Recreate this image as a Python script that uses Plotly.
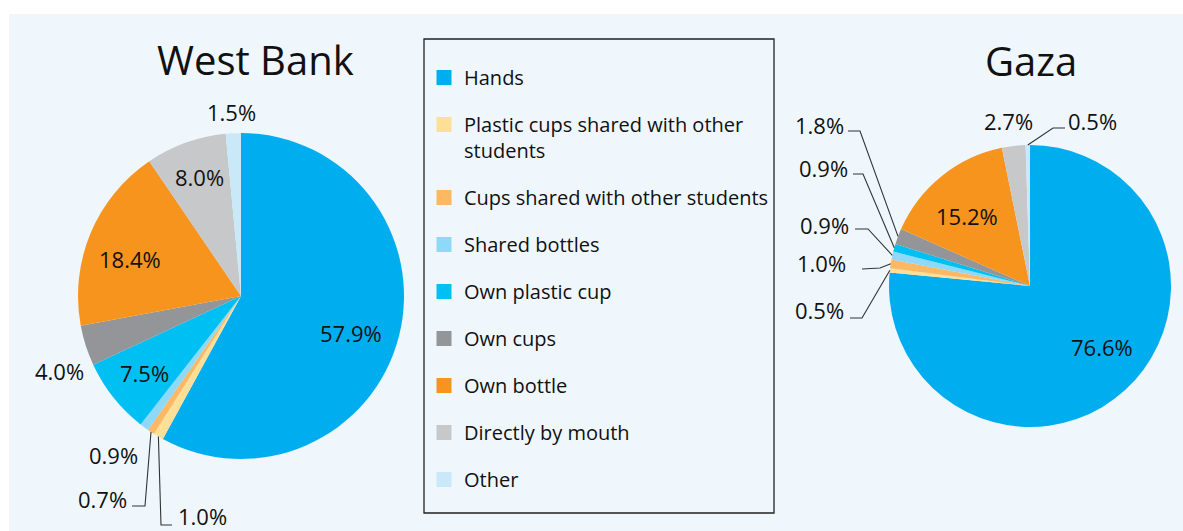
import math
import plotly.graph_objects as go

categories = [
    "Hands",
    "Plastic cups shared with other<br>students",
    "Cups shared with other students",
    "Shared bottles",
    "Own plastic cup",
    "Own cups",
    "Own bottle",
    "Directly by mouth",
    "Other",
]
west_bank = [57.9, 1.0, 0.7, 0.9, 7.5, 4.0, 18.4, 8.0, 1.5]
gaza = [76.6, 0.5, 1.0, 0.9, 0.9, 1.8, 15.2, 2.7, 0.5]
regions = ["West Bank", "Gaza"]

colors = ["#00AEEF", "#FEDF98", "#FDB863", "#8ED8F8", "#00BFF3",
          "#939598", "#F7941D", "#C7C8CA", "#C9E9F8"]

FONT = "Open Sans, Noto Sans, sans-serif"
TXT = "#111111"
W, H = 1183, 531

# pie placement (pixels): centre x, centre y, radius
wb_geom = (241, 296, 163)
gz_geom = (1030, 286, 141)

# data-label layout (pixels): slice index -> (text x, text y, leader bend points)
wb_labels = {
    0: (351, 333, None),
    1: (202, 516, [(161, 525), (172, 525)]),
    2: (102, 499, [(145, 506), (132, 506)]),
    3: (113, 455, None),
    4: (144, 373, None),
    5: (59, 371, None),
    6: (130, 259, None),
    7: (199, 177, None),
    8: (232, 112, None),
}
gz_labels = {
    0: (1102, 347, None),
    1: (819, 310, [(862, 318), (850, 318)]),
    2: (821, 263, [(880, 268), (862, 269)]),
    3: (824, 225, [(868, 229), (855, 229)]),
    4: (823, 168, [(863, 174), (853, 174)]),
    5: (819, 125, [(860, 131), (848, 131)]),
    6: (967, 216, None),
    7: (1008, 121, None),
    8: (1092, 121, [(1053, 128), (1065, 128)]),
}

fig = go.Figure()


def pie(vals, geom):
    cx, cy, r = geom
    return go.Pie(
        labels=categories, values=vals, sort=False, direction="clockwise",
        rotation=0, marker=dict(colors=colors, line=dict(width=0)),
        textinfo="none", showlegend=False, hoverinfo="label+value",
        domain=dict(x=[(cx - r) / W, (cx + r) / W],
                    y=[(H - cy - r) / H, (H - cy + r) / H]),
    )


fig.add_trace(pie(west_bank, wb_geom))
fig.add_trace(pie(gaza, gz_geom))

for lab, c in zip(categories, colors):
    fig.add_trace(go.Scatter(
        x=[None], y=[None], mode="markers", name=lab, legendgroup=lab,
        marker=dict(symbol="square", size=15, color=c),
        showlegend=True, hoverinfo="skip",
    ))


def px(x, y):
    return x / W, 1 - y / H


shapes = [
    dict(type="rect", xref="paper", yref="paper", x0=9 / W, x1=1, y0=0,
         y1=1 - 14 / H, fillcolor="#EFF7FD", line=dict(width=0), layer="below"),
    dict(type="rect", xref="paper", yref="paper", x0=424 / W, x1=774 / W,
         y0=1 - 513 / H, y1=1 - 39 / H, fillcolor="rgba(0,0,0,0)",
         line=dict(color="#222222", width=1.3), layer="above"),
]
annotations = []


def data_labels(vals, geom, layout):
    cx, cy, r = geom
    tot = sum(vals)
    for i, (tx, ty, bend) in layout.items():
        annotations.append(dict(
            text=f"{vals[i]:.1f}%", x=tx / W, y=1 - ty / H, xref="paper",
            yref="paper", showarrow=False, xanchor="center", yanchor="middle",
            font=dict(family=FONT, size=22, color=TXT)))
        if bend:
            mid = (sum(vals[:i]) + vals[i] / 2) / tot * 2 * math.pi
            ex, ey = cx + r * math.sin(mid), cy - r * math.cos(mid)
            pts = [(ex, ey)] + bend
            path = "M " + " L ".join(
                f"{px(a, b)[0]:.5f},{px(a, b)[1]:.5f}" for a, b in pts)
            shapes.append(dict(type="path", xref="paper", yref="paper",
                               path=path, line=dict(color="#333333", width=1.1),
                               layer="above"))


data_labels(west_bank, wb_geom, wb_labels)
data_labels(gaza, gz_geom, gz_labels)

annotations += [
    dict(text=regions[0], x=255 / W, y=1 - 60 / H, xref="paper", yref="paper",
         showarrow=False, xanchor="center", yanchor="middle",
         font=dict(family=FONT, size=40, color=TXT)),
    dict(text=regions[1], x=1031 / W, y=1 - 61 / H, xref="paper", yref="paper",
         showarrow=False, xanchor="center", yanchor="middle",
         font=dict(family=FONT, size=40, color=TXT)),
]

fig.update_layout(
    width=W, height=H,
    margin=dict(l=0, r=0, t=0, b=0),
    paper_bgcolor="white", plot_bgcolor="rgba(0,0,0,0)",
    xaxis=dict(visible=False), yaxis=dict(visible=False),
    shapes=shapes, annotations=annotations,
    legend=dict(x=424 / W, y=1 - 58 / H, xanchor="left", yanchor="top",
                bgcolor="rgba(0,0,0,0)", borderwidth=0,
                font=dict(family=FONT, size=20, color=TXT),
                traceorder="grouped", tracegroupgap=18, valign="top",
                itemclick=False, itemdoubleclick=False),
)

fig.write_html("out.html", config={"displayModeBar": False},
               post_script="document.body.style.margin='0';"
                           "document.body.style.overflow='hidden';")
